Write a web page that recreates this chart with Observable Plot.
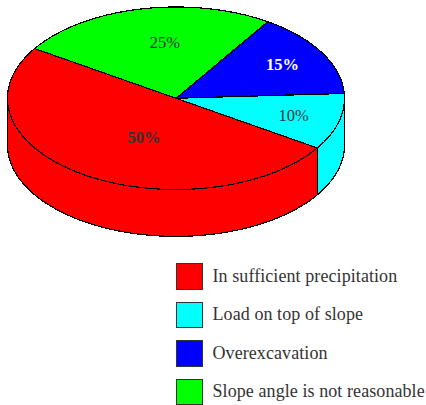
<!DOCTYPE html>
<html>
<head>
<meta charset="utf-8">
<script src="https://cdn.jsdelivr.net/npm/d3@7"></script>
<script src="https://cdn.jsdelivr.net/npm/@observablehq/plot@0.6"></script>
<style>
html,body{margin:0;padding:0;background:#fff;width:426px;height:405px;overflow:hidden}
#chart svg{display:block}
#legend{margin:13px 0 0 176px;font-family:"Liberation Serif",serif;color:#333;font-size:18px;letter-spacing:.08px}
.row{display:flex;align-items:center;height:26.5px;margin-bottom:12px;white-space:nowrap}
.sw{box-sizing:border-box;width:26.5px;height:26.5px;border:1.5px solid #333;margin-right:10px;flex:none}
</style>
</head>
<body>
<div id="chart"></div>
<div id="legend"></div>
<script>
// Data
const categories = ["Slope angle is not reasonable", "Overexcavation", "Load on top of slope", "In sufficient precipitation"];
const values = [25, 15, 10, 50];
const colors = ["#00ff00", "#0000ff", "#00ffff", "#ff0000"];
const legendOrder = ["In sufficient precipitation", "Load on top of slope", "Overexcavation", "Slope angle is not reasonable"];
const labelText = ["25%", "15%", "10%", "50%"];
const labelStyle = [
  {fill: "#333", weight: "normal", dx: 10, dy: -2},
  {fill: "#fff", weight: "bold", dx: 19, dy: -6},
  {fill: "#333", weight: "normal", dx: 20, dy: 3},
  {fill: "#333", weight: "bold", dx: 23, dy: -6}
];

const startAngle = -147 * Math.PI / 180;   // tilt of the first slice on the ellipse
const thickness = 47 / 91.5;               // wall height in units of the vertical radius
const arcs = d3.pie().sort(null).startAngle(startAngle).endAngle(startAngle + 2 * Math.PI)(values);

const arcPoints = (a0, a1) => {
  const n = Math.max(2, Math.ceil((a1 - a0) / (Math.PI / 180)));
  return d3.range(n + 1).map(i => a0 + (a1 - a0) * i / n);
};

// top sectors and outer wall pieces, all derived from the values
const topFaces = [], wallFaces = [];
arcs.forEach((a, i) => {
  const name = categories[i];
  const id = "top" + i;
  topFaces.push({id, name, x: 0, y: 0});
  arcPoints(a.startAngle, a.endAngle).forEach(t => topFaces.push({id, name, x: Math.cos(t), y: Math.sin(t)}));
  topFaces.push({id, name, x: 0, y: 0});
  // wall is visible on the front half only, sin(t) > 0 (t in [0, PI] or its 2PI shift)
  for (const shift of [0, 2 * Math.PI]) {
    const lo = Math.max(a.startAngle, shift), hi = Math.min(a.endAngle, shift + Math.PI);
    if (hi > lo) {
      const pts = arcPoints(lo, hi);
      const wid = "wall" + i + shift;
      pts.forEach(t => wallFaces.push({id: wid, name, x: Math.cos(t), y: Math.sin(t)}));
      pts.slice().reverse().forEach(t => wallFaces.push({id: wid, name, x: Math.cos(t), y: Math.sin(t) + thickness}));
      wallFaces.push({id: wid, name, x: Math.cos(pts[0]), y: Math.sin(pts[0])});
    }
  }
});

const labelMarks = arcs.map((a, i) => {
  const mid = (a.startAngle + a.endAngle) / 2, s = labelStyle[i];
  return Plot.text([labelText[i]], {
    x: () => 0.6 * Math.cos(mid),
    y: () => 0.6 * Math.sin(mid),
    text: d => d,
    fill: s.fill, fontWeight: s.weight, dx: s.dx, dy: s.dy,
    fontSize: 16.5, fontFamily: "Liberation Serif, serif"
  });
});

const sector = {
  x: "x", y: "y", z: "id", fill: "name", stroke: "#000", strokeWidth: 1.2,
  curve: "linear", strokeLinejoin: "round", shapeRendering: "crispEdges"
};

const plot = Plot.plot({
  width: 426, height: 250,
  margin: 0,
  style: {background: "#fff"},
  x: {domain: [-1, 1], range: [7, 344], axis: null},
  y: {domain: [-1, 1], range: [6.5, 189], axis: null},
  color: {domain: categories, range: colors},
  marks: [
    Plot.line(wallFaces, sector),
    Plot.line(topFaces, sector),
    ...labelMarks
  ]
});
document.getElementById("chart").append(plot);

const legend = document.getElementById("legend");
legendOrder.forEach(name => {
  const row = document.createElement("div");
  row.className = "row";
  const sw = document.createElement("span");
  sw.className = "sw";
  sw.style.background = colors[categories.indexOf(name)];
  const label = document.createElement("span");
  label.textContent = name;
  row.append(sw, label);
  legend.append(row);
});
</script>
</body>
</html>
